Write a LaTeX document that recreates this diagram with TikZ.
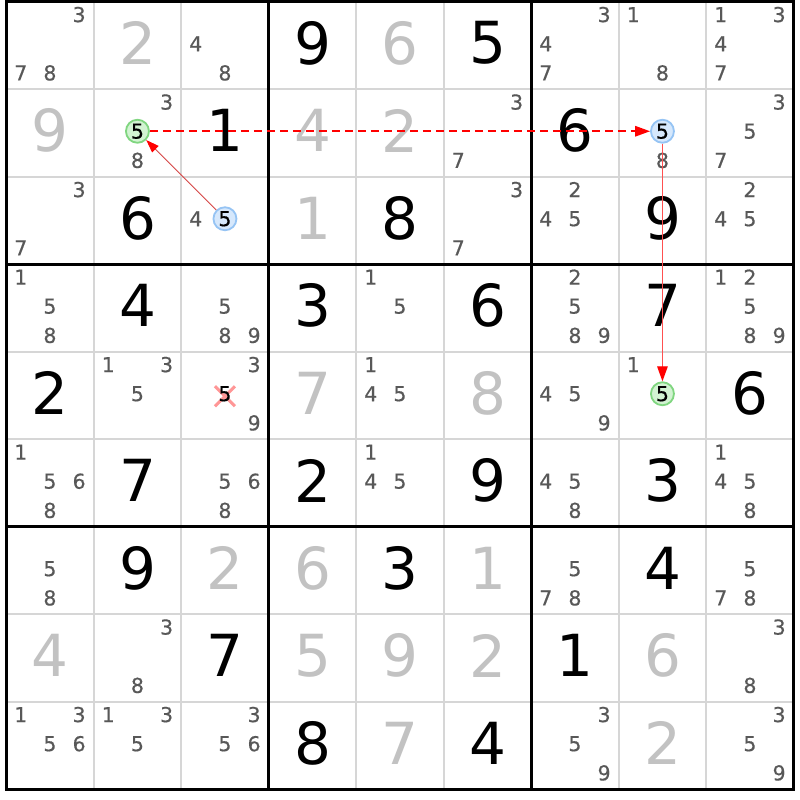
\documentclass[tikz,border=0pt]{standalone}
\usepackage{fontspec}
\setmainfont{DejaVu Sans}
\newfontfamily\candfont[FakeBold=0.5]{DejaVu Sans}
\usetikzlibrary{arrows.meta,shapes.misc}
\definecolor{solvedgray}{RGB}{194,194,194}
\definecolor{candgray}{RGB}{88,88,88}
\definecolor{gridgray}{RGB}{214,214,214}
\definecolor{hlgreenfill}{RGB}{210,243,210}
\definecolor{hlgreendraw}{RGB}{128,214,128}
\definecolor{hlbluefill}{RGB}{214,232,252}
\definecolor{hlbluedraw}{RGB}{150,196,244}
\definecolor{xpink}{RGB}{255,150,150}
\definecolor{linkred}{RGB}{255,0,0}
\definecolor{softred}{RGB}{255,80,80}
\definecolor{weakred}{RGB}{214,70,70}
\begin{document}
\begin{tikzpicture}[x=1pt,y=-1pt,
  given/.style={font=\fontsize{58}{58}\selectfont, text=black, inner sep=0pt},
  solved/.style={given, text=solvedgray},
  cand/.style={font=\candfont\fontsize{20.5}{20.5}\selectfont, text=candgray, inner sep=0pt},
  hlgreen/.style={circle, draw=hlgreendraw, fill=hlgreenfill, line width=1.8pt,
    minimum size=23pt, inner sep=0pt, font=\candfont\fontsize{20.5}{20.5}\selectfont, text=black},
  hlblue/.style={hlgreen, draw=hlbluedraw, fill=hlbluefill},
  thingrid/.style={draw=gridgray, line width=2pt},
  thickgrid/.style={draw=black, line width=3pt},
  strongdash/.style={draw=linkred, line width=1.6pt, dash pattern=on 8pt off 5pt,
    -{Triangle[length=15pt,width=10.5pt,color=linkred]}},
  strongsolid/.style={draw=softred, line width=1.2pt,
    -{Triangle[length=15pt,width=10.5pt,color=linkred]}},
  weaklink/.style={draw=weakred, line width=0.9pt,
    -{Triangle[length=13pt,width=9pt,color=linkred]}},
  xmark/.style={cross out, draw=xpink, line width=3pt, minimum size=17pt, inner sep=0pt}
]
\def\ox{6.2}\def\oy{1.5}\def\cs{87.5}
\fill[white] (0,0) rectangle (800,800);
\useasboundingbox (0,0) rectangle (800,800);
% thin lines
\foreach \i in {1,2,4,5,7,8} {
  \draw[thingrid] (\ox+\i*\cs,\oy) -- (\ox+\i*\cs,\oy+9*\cs);
  \draw[thingrid] (\ox,\oy+\i*\cs) -- (\ox+9*\cs,\oy+\i*\cs);
}
% thick lines
\foreach \i in {3,6} {
  \draw[thickgrid] (\ox+\i*\cs,\oy) -- (\ox+\i*\cs,\oy+9*\cs);
  \draw[thickgrid] (\ox,\oy+\i*\cs) -- (\ox+9*\cs,\oy+\i*\cs);
}
\draw[thickgrid] (\ox,\oy) rectangle (\ox+9*\cs,\oy+9*\cs);
% given digits
\foreach \r/\c/\d in {1/4/9,1/6/5,2/3/1,2/7/6,3/2/6,3/5/8,3/8/9,4/2/4,4/4/3,4/6/6,4/8/7,
  5/1/2,5/9/6,6/2/7,6/4/2,6/6/9,6/8/3,7/2/9,7/5/3,7/8/4,8/3/7,8/7/1,9/4/8,9/6/4}
  \node[given] (v\r\c) at ({\ox+(\c-0.5)*\cs},{\oy+(\r-0.5)*\cs-2}) {\d};
% solved digits
\foreach \r/\c/\d in {1/2/2,1/5/6,2/1/9,2/4/4,2/5/2,3/4/1,5/4/7,5/6/8,7/3/2,7/4/6,7/6/1,
  8/1/4,8/4/5,8/5/9,8/6/2,8/8/6,9/5/7,9/8/2}
  \node[solved] (v\r\c) at ({\ox+(\c-0.5)*\cs},{\oy+(\r-0.5)*\cs-2}) {\d};
% candidates
\foreach \r/\c/\L in {1/1/{3,7,8},1/3/{4,8},1/7/{3,4,7},1/8/{1,8},1/9/{1,3,4,7},
  2/2/{3,8},2/6/{3,7},2/8/{8},2/9/{3,5,7},
  3/1/{3,7},3/3/{4},3/6/{3,7},3/7/{2,4,5},3/9/{2,4,5},
  4/1/{1,5,8},4/3/{5,8,9},4/5/{1,5},4/7/{2,5,8,9},4/9/{1,2,5,8,9},
  5/2/{1,3,5},5/3/{3,9},5/5/{1,4,5},5/7/{4,5,9},5/8/{1},
  6/1/{1,5,6,8},6/3/{5,6,8},6/5/{1,4,5},6/7/{4,5,8},6/9/{1,4,5,8},
  7/1/{5,8},7/7/{5,7,8},7/9/{5,7,8},
  8/2/{3,8},8/9/{3,8},
  9/1/{1,3,5,6},9/2/{1,3,5},9/3/{3,5,6},9/7/{3,5,9},9/9/{3,5,9}} {
  \foreach \d in \L {
    \pgfmathtruncatemacro\cj{div(\d-1,3)}
    \pgfmathtruncatemacro\ck{mod(\d-1,3)}
    \node[cand] (n\r\c\d) at ({\ox+(\c-1)*\cs+(2*\ck+1)*\cs/6},{\oy+(\r-1)*\cs+(2*\cj+1)*\cs/6-1.5}) {\d};
  }
}
% eliminated candidate
\node[xmark] (x53) at ({\ox+2*\cs+\cs/2},{\oy+4*\cs+\cs/2+1}) {};
\node[cand, text=black] (n535) at ({\ox+2*\cs+\cs/2},{\oy+4*\cs+\cs/2-1.5}) {5};
% highlighted candidates
\node[hlgreen] (h22) at ({\ox+1*\cs+\cs/2},{\oy+1*\cs+\cs/2-1.5}) {5};
\node[hlblue]  (h28) at ({\ox+7*\cs+\cs/2},{\oy+1*\cs+\cs/2-1.5}) {5};
\node[hlblue]  (h33) at ({\ox+2*\cs+\cs/2},{\oy+2*\cs+\cs/2-1.5}) {5};
\node[hlgreen] (h58) at ({\ox+7*\cs+\cs/2},{\oy+4*\cs+\cs/2-1.5}) {5};
% links
\draw[strongdash] (h22) -- (h28);
\draw[weaklink] (h33) -- (h22);
\draw[strongsolid] (h28) -- (h58);
\end{tikzpicture}
\end{document}
